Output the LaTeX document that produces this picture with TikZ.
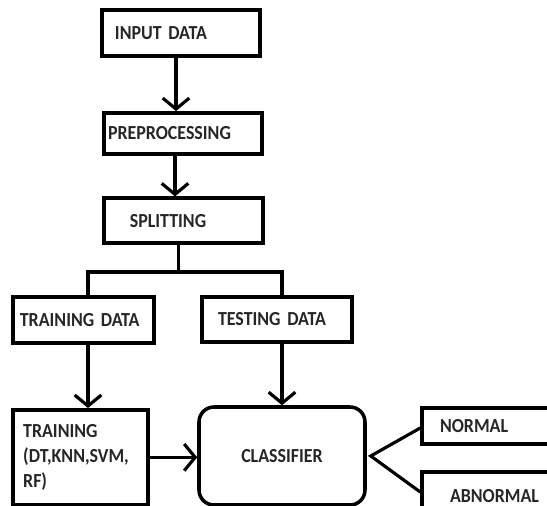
\documentclass[tikz,border=0pt]{standalone}
\usepackage{fontspec}
\setmainfont{Carlito}[FakeStretch=0.9]
\usepackage{tikz}
\usetikzlibrary{positioning}
\usetikzlibrary{arrows.meta}
\tikzset{basic/.style={draw,line width=3pt,align=left,font=\fontsize{17}{21.5}\selectfont\bfseries,text=black!85}}
\tikzset{stage/.style={basic,rectangle}}
\tikzset{decide/.style={basic,rectangle,rounded corners=0.45cm,align=center}}
\tikzset{flow/.style={line width=2.7pt,-{Straight Barb[length=0.33cm,width=0.8cm]}}}
\tikzset{link/.style={line width=2.7pt}}

\begin{document}
\begin{tikzpicture}
        \useasboundingbox (0,0) rectangle (16.41,-15.18);
        \clip (0,0) rectangle (16.41,-15.18);
        \node[stage,text width=3.96cm,inner xsep=0.39cm,minimum height=1.38cm] (input) at (5.43,-0.99) {INPUT DATA};
        \node[stage,text width=4.5cm,inner xsep=0.12cm,minimum height=1.23cm] (prep) at (5.49,-4.0) {PREPROCESSING};
        \node[stage,text width=3.21cm,inner xsep=0.78cm,minimum height=1.35cm] (split) at (5.5,-6.62) {SPLITTING};
        \node[stage,text width=3.81cm,inner xsep=0.21cm,minimum height=1.38cm] (trdata) at (2.5,-9.6) {TRAINING DATA};
        \node[stage,text width=3.54cm,inner xsep=0.48cm,minimum height=1.35cm] (tsdata) at (8.31,-9.58) {TESTING DATA};
        \node[stage,text width=3.45cm,inner xsep=0.3cm,minimum height=2.85cm] (train) at (2.42,-13.72) {TRAINING\\(DT,KNN,SVM,\\RF)};
        \node[decide,minimum width=4.98cm,minimum height=2.94cm] (clf) at (8.46,-13.68) {CLASSIFIER};
        \node[stage,text width=3.06cm,inner xsep=0.54cm,minimum height=1.08cm] (normal) at (14.73,-12.78) {NORMAL};
        \node[stage,text width=2.46cm,inner xsep=0.84cm,minimum height=1.44cm] (abnormal) at (14.73,-14.88) {ABNORMAL};
            \draw[flow] ([xshift=-0.15cm]input.south) -- ([xshift=-0.15cm]input.south |- prep.north);
            \draw[flow] ([xshift=-0.24cm]prep.south) -- ([xshift=-0.24cm]prep.south |- split.north);
        \coordinate (fork) at ([xshift=-0.15cm]split.south |- 0,-8.16);
            \draw[link] ([xshift=-0.15cm]split.south) -- (fork);
            \draw[link] ([xshift=0.14cm]trdata.north) |- (fork) -| ([xshift=0.15cm]tsdata.north);
            \draw[flow] ([xshift=0.14cm]trdata.south) -- ([xshift=0.14cm]trdata.south |- train.north);
            \draw[flow] (clf.north |- tsdata.south) -- (clf.north);
            \draw[flow] (train.east) -- (train.east -| clf.west);
        \coordinate[right=0.12cm of clf.east] (meet);
            \draw[link] ([yshift=-0.06cm]normal.west) -- (meet) -- ([yshift=0.12cm]abnormal.west);
    \end{tikzpicture}
\end{document}
